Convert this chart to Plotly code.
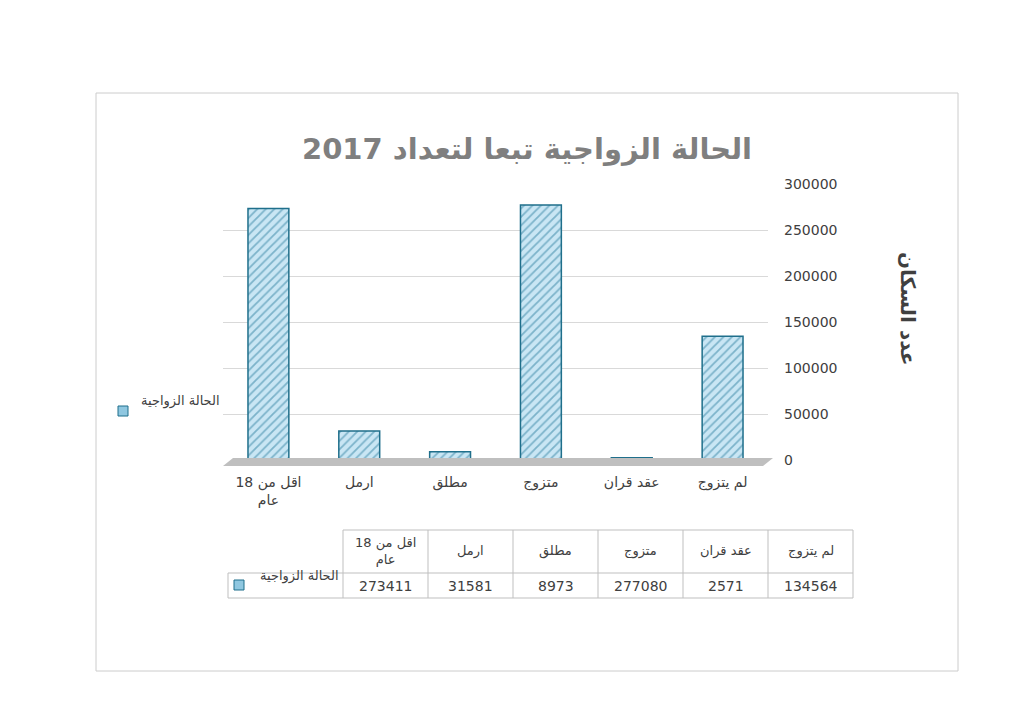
import plotly.graph_objects as go

categories = ["اقل من 18<br>عام", "ارمل", "مطلق", "متزوج", "عقد قران", "لم يتزوج"]
table_heads = ["اقل من 18<br>عام", "ارمل", "مطلق", "متزوج", "عقد قران", "لم يتزوج"]
values = [273411, 31581, 8973, 277080, 2571, 134564]
series_name = "الحالة الزواجية"

W, H = 1024, 726
L, R, T, B = 215, 760, 176, 452

def px(x):
    return (x - L) / (R - L)

def py(y):
    return (B - y) / (B - T)

fig = go.Figure(go.Bar(
    x=categories, y=values, name=series_name, width=0.45,
    marker=dict(color="#c9e6f4", line=dict(color="#1f6f8b", width=1.5),
                pattern=dict(shape="/", fgcolor="#2f7fa0", bgcolor="#c9e6f4", size=6, solidity=0.3)),
    showlegend=False,
))

shapes = []
# outer border
shapes.append(dict(type="rect", xref="paper", yref="paper", x0=px(88), x1=px(950), y0=py(663), y1=py(85),
                   line=dict(color="#cccccc", width=1)))
# floor
shapes.append(dict(type="path", xref="paper", yref="paper",
                   path=f"M {px(215)},{py(458)} L {px(755)},{py(458)} L {px(765)},{py(450)} L {px(225)},{py(450)} Z",
                   fillcolor="#bfbfbf", line=dict(width=0)))
# table grid
cols = [220, 335, 420, 505, 590, 675, 760, 845]
for x in cols[1:]:
    shapes.append(dict(type="line", xref="paper", yref="paper", x0=px(x), x1=px(x), y0=py(522), y1=py(590),
                       line=dict(color="#bfbfbf", width=1)))
shapes.append(dict(type="line", xref="paper", yref="paper", x0=px(220), x1=px(220), y0=py(565), y1=py(590),
                   line=dict(color="#bfbfbf", width=1)))
shapes.append(dict(type="line", xref="paper", yref="paper", x0=px(335), x1=px(845), y0=py(522), y1=py(522),
                   line=dict(color="#bfbfbf", width=1)))
for y in [565, 590]:
    shapes.append(dict(type="line", xref="paper", yref="paper", x0=px(220), x1=px(845), y0=py(y), y1=py(y),
                       line=dict(color="#bfbfbf", width=1)))
# legend keys
for (x0, y0) in [(110, 398), (226, 572)]:
    shapes.append(dict(type="rect", xref="paper", yref="paper", x0=px(x0), x1=px(x0 + 10), y0=py(y0 + 10), y1=py(y0),
                       fillcolor="#8fc7e0", line=dict(color="#1f6f8b", width=1)))

ann = []
ann.append(dict(text="<b>الحالة الزواجية تبعا لتعداد 2017</b>", x=px(519), y=py(122), xref="paper", yref="paper",
                xanchor="center", showarrow=False, font=dict(size=29, color="#7f7f7f")))
ann.append(dict(text="<b>عدد السكان</b>", x=px(900), y=py(300), xref="paper", yref="paper", textangle=90,
                xanchor="center", showarrow=False, font=dict(size=20, color="#404040")))
ann.append(dict(text=series_name, x=px(214), y=py(403), xref="paper", yref="paper", xanchor="right",
                showarrow=False, font=dict(size=13, color="#404040")))
ann.append(dict(text=series_name, x=px(333), y=py(578), xref="paper", yref="paper", xanchor="right",
                showarrow=False, font=dict(size=13, color="#404040")))
for i in range(6):
    cx = (cols[i + 1] + cols[i + 2]) / 2
    ann.append(dict(text=table_heads[i], x=px(cx), y=py(543), xref="paper", yref="paper",
                    xanchor="center", yanchor="middle", showarrow=False, font=dict(size=13, color="#404040")))
    ann.append(dict(text=str(values[i]), x=px(cx), y=py(578), xref="paper", yref="paper",
                    xanchor="center", yanchor="middle", showarrow=False, font=dict(size=14, color="#404040")))

fig.update_layout(
    width=W, height=H, margin=dict(l=L, r=W - R, t=T, b=H - B),
    paper_bgcolor="white", plot_bgcolor="white",
    font=dict(family="DejaVu Sans, Noto Sans", color="#404040"),
    shapes=shapes, annotations=ann, bargap=0.5,
    xaxis=dict(showline=False, tickfont=dict(size=14), ticks="", ticklabelstandoff=12),
    yaxis=dict(range=[0, 300000], dtick=50000, tickformat="d", side="right", showgrid=True, gridcolor="#d9d9d9",
               zeroline=False, tickfont=dict(size=14), ticklabelstandoff=15),
)

fig.write_html("out.html")
